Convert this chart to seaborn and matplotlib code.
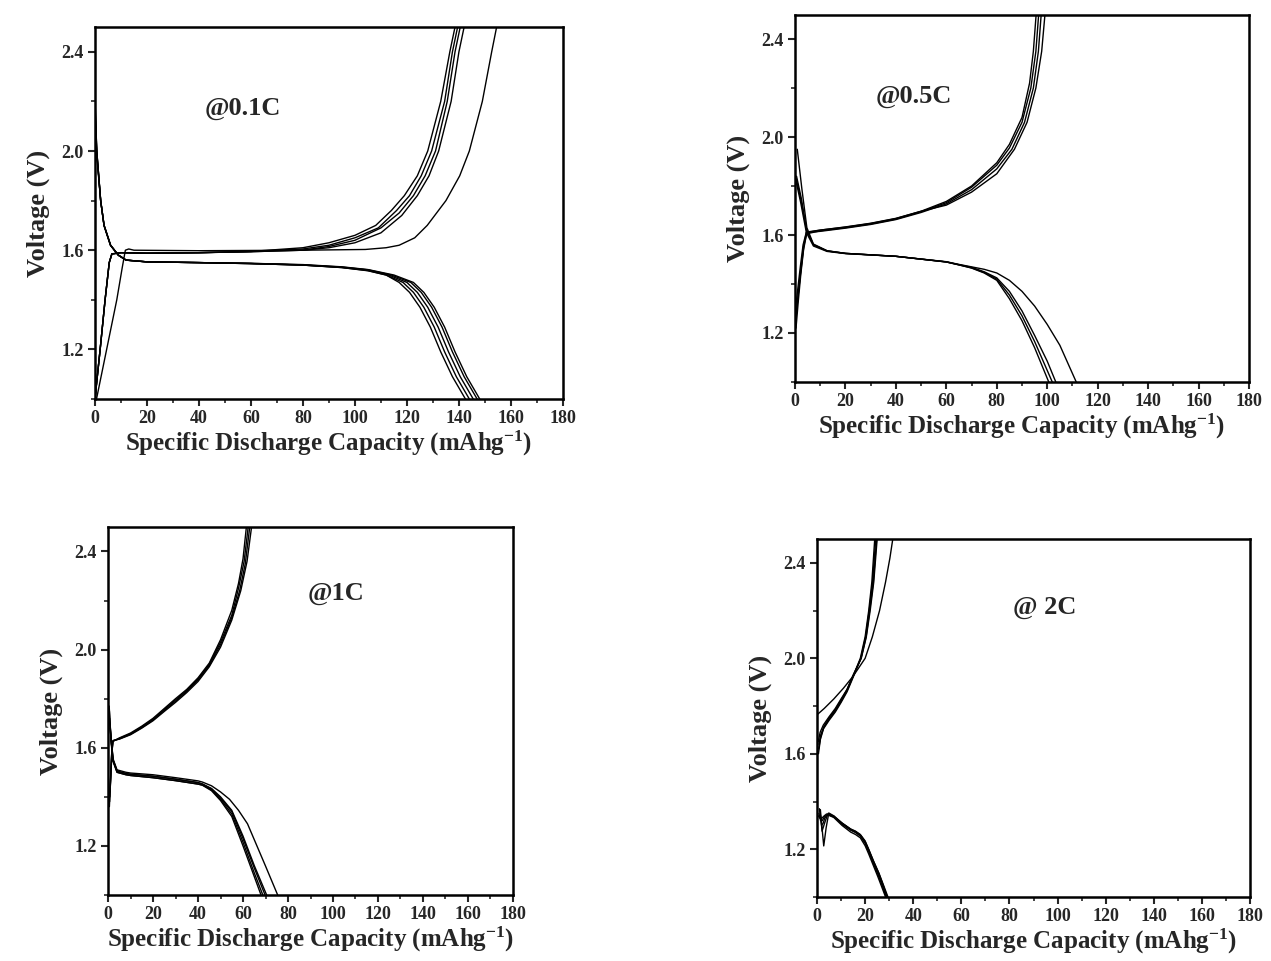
"""
Charge/discharge voltage profiles at four C-rates (0.1C, 0.5C, 1C, 2C).
Values read off the published figure by eye.
"""
import matplotlib
matplotlib.use("Agg")
from matplotlib import pyplot
from matplotlib.ticker import FixedLocator, MultipleLocator
import seaborn
import pandas as pd

# ---------------- @0.1C ----------------
c01_dis_cap = [
    [0, 0.7, 2.2, 3.5, 6, 9, 12, 20, 40, 60, 80, 95, 105, 112, 117, 121, 125, 129, 133, 137.5, 142.5],
    [0, 0.7, 2.2, 3.5, 6, 9, 12, 20, 40, 60, 80, 95, 105, 112, 118.5, 122.5, 126.5, 130.5, 134.5, 139, 144],
    [0, 0.7, 2.2, 3.5, 6, 9, 12, 20, 40, 60, 80, 95, 105, 113, 120, 124, 128, 132, 136, 140.5, 145.5],
    [0, 0.7, 2.2, 3.5, 6, 9, 12, 20, 40, 60, 80, 95, 105, 114, 121.5, 125.5, 129.5, 133.5, 137.5, 142, 147],
    [0, 0.7, 2.2, 3.5, 6, 9, 12, 20, 40, 60, 80, 95, 105, 115, 122.5, 126.5, 130.5, 134.5, 138.5, 143, 148],
]
c01_dis_v = [
    [2.22, 2.0, 1.8, 1.7, 1.62, 1.58, 1.56, 1.553, 1.55, 1.546, 1.54, 1.53, 1.517, 1.50, 1.47, 1.43, 1.37, 1.29, 1.19, 1.09, 1.0],
    [2.20, 2.0, 1.8, 1.7, 1.62, 1.58, 1.56, 1.553, 1.55, 1.546, 1.54, 1.53, 1.518, 1.50, 1.47, 1.43, 1.37, 1.29, 1.19, 1.09, 1.0],
    [2.18, 2.0, 1.8, 1.7, 1.62, 1.58, 1.56, 1.553, 1.55, 1.546, 1.54, 1.531, 1.52, 1.50, 1.47, 1.43, 1.37, 1.29, 1.19, 1.09, 1.0],
    [2.16, 1.99, 1.8, 1.7, 1.62, 1.58, 1.56, 1.553, 1.55, 1.547, 1.541, 1.532, 1.521, 1.50, 1.47, 1.43, 1.37, 1.29, 1.19, 1.09, 1.0],
    [2.14, 1.98, 1.8, 1.7, 1.62, 1.58, 1.56, 1.553, 1.55, 1.547, 1.542, 1.533, 1.522, 1.50, 1.47, 1.43, 1.37, 1.29, 1.19, 1.09, 1.0],
]
c01_chg_cap = [
    [0.6, 4.5, 8.4, 10.5, 11.7, 13, 15, 40, 80, 104, 112, 117, 123, 127.8, 135, 140.3, 144, 149, 152.6, 154.5],
    [0, 2, 3.9, 5.5, 6.5, 10, 20, 40, 60, 80, 90, 100, 108, 114, 119, 124, 128, 133, 136.5, 138.5],
    [0, 2, 3.9, 5.5, 6.5, 10, 20, 40, 60, 80, 90, 100, 109, 116, 121, 125.5, 129.5, 134.5, 137.5, 139.5],
    [0, 2, 3.9, 5.5, 6.5, 10, 20, 40, 60, 80, 90, 100, 110, 117, 122.5, 127, 131, 135.5, 138.5, 140.5],
    [0, 2, 3.9, 5.5, 6.5, 10, 20, 40, 60, 80, 90, 100, 110, 118, 124, 128.5, 132.2, 137, 140, 142],
]
c01_chg_v = [
    [1.0, 1.2, 1.4, 1.53, 1.6, 1.605, 1.6, 1.598, 1.6, 1.603, 1.61, 1.62, 1.65, 1.7, 1.8, 1.9, 2.0, 2.2, 2.4, 2.5],
    [1.0, 1.2, 1.4, 1.55, 1.585, 1.59, 1.588, 1.59, 1.595, 1.61, 1.63, 1.66, 1.70, 1.76, 1.82, 1.9, 2.0, 2.2, 2.4, 2.5],
    [1.0, 1.2, 1.4, 1.55, 1.585, 1.59, 1.588, 1.59, 1.595, 1.605, 1.62, 1.65, 1.69, 1.76, 1.82, 1.9, 2.0, 2.2, 2.4, 2.5],
    [1.0, 1.2, 1.4, 1.55, 1.585, 1.59, 1.588, 1.59, 1.594, 1.60, 1.615, 1.64, 1.69, 1.75, 1.82, 1.9, 2.0, 2.2, 2.4, 2.5],
    [1.0, 1.2, 1.4, 1.55, 1.585, 1.59, 1.588, 1.59, 1.594, 1.60, 1.61, 1.63, 1.67, 1.74, 1.82, 1.9, 2.0, 2.2, 2.4, 2.5],
]

# ---------------- @0.5C ----------------
c05_dis_cap = [
    [0.9, 2.7, 4.7, 7.3, 12.7, 20, 40, 60, 65, 70, 75, 80, 85, 90, 95, 100.6],
    [0.6, 2.5, 4.6, 7.3, 12.7, 20, 40, 60, 65, 70, 75, 80, 85, 90, 95, 102],
    [0.5, 2.4, 4.6, 7.3, 12.7, 20, 40, 60, 65, 70, 75, 80, 85, 90, 95, 100, 103.4],
    [0.4, 2.3, 4.5, 7.3, 12.7, 20, 40, 60, 65, 70, 75, 80, 85, 90, 95, 100, 105, 111.5],
]
c05_dis_v = [
    [1.95, 1.79, 1.63, 1.563, 1.536, 1.525, 1.513, 1.49, 1.478, 1.465, 1.445, 1.415, 1.34, 1.25, 1.14, 1.0],
    [1.84, 1.75, 1.62, 1.56, 1.535, 1.525, 1.513, 1.49, 1.478, 1.466, 1.447, 1.42, 1.355, 1.27, 1.165, 1.0],
    [1.83, 1.74, 1.62, 1.56, 1.535, 1.525, 1.513, 1.49, 1.479, 1.468, 1.45, 1.425, 1.37, 1.29, 1.19, 1.085, 1.0],
    [1.82, 1.73, 1.61, 1.555, 1.533, 1.524, 1.513, 1.491, 1.48, 1.47, 1.46, 1.445, 1.415, 1.37, 1.31, 1.235, 1.15, 1.0],
]
c05_chg_cap = [
    [0.3, 1.2, 2.2, 3.3, 4.5, 10, 20, 30, 40, 50, 60, 70, 80, 85, 90, 93, 94.5, 95.6],
    [0.4, 1.3, 2.3, 3.4, 4.6, 10, 20, 30, 40, 50, 60, 70, 80, 85, 90, 93.5, 95.5, 96.6],
    [0.5, 1.4, 2.4, 3.5, 4.7, 10, 20, 30, 40, 50, 60, 70, 80, 86, 91, 94.5, 96.5, 97.6],
    [0.2, 1.1, 2.1, 3.2, 4.5, 10, 20, 30, 40, 50, 60, 70, 80, 87, 92, 95.5, 97.8, 99.1],
]
c05_chg_v = [
    [1.25, 1.35, 1.45, 1.55, 1.61, 1.62, 1.632, 1.647, 1.667, 1.697, 1.737, 1.80, 1.895, 1.97, 2.08, 2.22, 2.35, 2.5],
    [1.22, 1.33, 1.44, 1.54, 1.605, 1.617, 1.63, 1.645, 1.665, 1.695, 1.732, 1.795, 1.885, 1.955, 2.06, 2.2, 2.35, 2.5],
    [1.28, 1.37, 1.46, 1.555, 1.61, 1.615, 1.628, 1.643, 1.663, 1.692, 1.727, 1.785, 1.87, 1.95, 2.06, 2.2, 2.35, 2.5],
    [1.30, 1.38, 1.47, 1.56, 1.612, 1.62, 1.633, 1.648, 1.668, 1.697, 1.722, 1.775, 1.85, 1.95, 2.06, 2.2, 2.35, 2.5],
]

# ---------------- @1C ----------------
c1_dis_cap = [
    [0.5, 1.2, 2, 4, 8, 10, 20, 30, 40, 42, 46, 50, 55, 60, 64, 68],
    [0.6, 1.3, 2.1, 4, 8, 10, 20, 30, 40, 42, 46, 50, 55, 60, 65, 68.8],
    [0.7, 1.4, 2.2, 4, 8, 10, 20, 30, 40, 42, 46, 50, 55, 60, 65, 69.8],
    [0.8, 1.5, 2.3, 4, 8, 10, 20, 30, 40, 42, 46, 50, 55, 60, 65, 70.5],
    [0.9, 1.6, 2.4, 4, 8, 10, 20, 30, 40, 42, 46, 50, 54, 58, 62, 66, 70, 75.4],
]
c1_dis_v = [
    [1.77, 1.65, 1.55, 1.50, 1.49, 1.487, 1.478, 1.466, 1.452, 1.447, 1.425, 1.385, 1.32, 1.20, 1.10, 1.0],
    [1.75, 1.64, 1.55, 1.50, 1.49, 1.487, 1.478, 1.466, 1.452, 1.448, 1.428, 1.39, 1.33, 1.215, 1.09, 1.0],
    [1.72, 1.63, 1.55, 1.505, 1.495, 1.492, 1.484, 1.472, 1.458, 1.452, 1.432, 1.395, 1.34, 1.23, 1.11, 1.0],
    [1.70, 1.62, 1.55, 1.505, 1.495, 1.492, 1.484, 1.472, 1.458, 1.452, 1.434, 1.40, 1.345, 1.24, 1.12, 1.0],
    [1.68, 1.61, 1.55, 1.51, 1.50, 1.497, 1.49, 1.478, 1.465, 1.46, 1.445, 1.42, 1.39, 1.345, 1.29, 1.204, 1.118, 1.0],
]
c1_chg_cap = [
    [0.6, 1.0, 1.5, 2.0, 5, 10, 15, 20, 25, 30, 35, 40, 45, 50, 55, 58, 60, 61.5],
    [0.7, 1.1, 1.6, 2.1, 5, 10, 15, 20, 25, 30, 35, 40, 45, 50, 55, 58, 60.5, 62.3],
    [0.8, 1.2, 1.7, 2.2, 5, 10, 15, 20, 25, 30, 35, 40, 45, 50, 55, 58.5, 61, 63],
    [0.9, 1.3, 1.8, 2.3, 5, 10, 15, 20, 25, 30, 35, 40, 45, 50, 55, 59, 61.8, 63.8],
]
c1_chg_v = [
    [1.36, 1.45, 1.56, 1.625, 1.64, 1.66, 1.688, 1.72, 1.76, 1.80, 1.838, 1.885, 1.945, 2.04, 2.16, 2.27, 2.37, 2.5],
    [1.38, 1.47, 1.57, 1.627, 1.638, 1.657, 1.685, 1.716, 1.756, 1.795, 1.834, 1.88, 1.94, 2.03, 2.14, 2.25, 2.36, 2.5],
    [1.40, 1.48, 1.58, 1.628, 1.636, 1.655, 1.682, 1.713, 1.752, 1.79, 1.83, 1.876, 1.935, 2.02, 2.13, 2.24, 2.35, 2.5],
    [1.42, 1.50, 1.59, 1.63, 1.635, 1.653, 1.68, 1.71, 1.748, 1.785, 1.825, 1.87, 1.93, 2.01, 2.12, 2.24, 2.36, 2.5],
]

# ---------------- @2C ----------------
c2_dis_cap = [
    [1.4, 2.0, 2.8, 3.8, 4.9, 7, 10.4, 14, 16, 18, 20, 21.5, 23.5, 25.7, 27.5, 29.2],
    [1.0, 1.6, 2.1, 3.5, 4.6, 7, 10.4, 14, 16, 18, 20, 21.5, 23.5, 25.5, 27.2, 28.8],
    [1.2, 1.9, 2.6, 3.2, 4.4, 7, 10.4, 14, 16, 18, 20, 21.5, 23.3, 25.3, 27.0, 28.5],
    [0.8, 1.5, 2.2, 3.0, 4.2, 7, 10.4, 14, 16, 18, 20, 21.5, 23.6, 25.8, 27.7, 29.5],
    [0.6, 1.2, 2.0, 3.0, 4.0, 7, 10.4, 14, 16, 18, 20, 21.5, 23.4, 25.6, 27.4, 29.0],
]
c2_dis_v = [
    [1.366, 1.30, 1.214, 1.29, 1.352, 1.34, 1.31, 1.285, 1.276, 1.262, 1.235, 1.20, 1.15, 1.10, 1.05, 1.0],
    [1.37, 1.33, 1.276, 1.32, 1.35, 1.338, 1.305, 1.28, 1.27, 1.255, 1.225, 1.19, 1.14, 1.09, 1.045, 1.0],
    [1.36, 1.30, 1.31, 1.33, 1.345, 1.333, 1.30, 1.272, 1.262, 1.248, 1.215, 1.18, 1.135, 1.085, 1.04, 1.0],
    [1.35, 1.32, 1.32, 1.335, 1.345, 1.336, 1.308, 1.282, 1.273, 1.26, 1.232, 1.198, 1.148, 1.098, 1.048, 1.0],
    [1.34, 1.33, 1.33, 1.34, 1.348, 1.338, 1.31, 1.284, 1.274, 1.259, 1.23, 1.195, 1.145, 1.095, 1.047, 1.0],
]
c2_chg_cap = [
    [0.3, 3, 7, 11, 15, 18, 20, 23, 26, 28.5, 30.3, 31.5],
    [0.7, 1.5, 2.8, 5, 7.6, 10, 12.5, 15, 18, 20, 21.5, 22.8, 24.0],
    [0.6, 1.4, 2.7, 5, 7.6, 10, 12.5, 15, 18.2, 20.2, 21.7, 23.1, 24.4],
    [0.8, 1.6, 2.9, 5, 7.6, 10, 12.5, 15, 18.3, 20.4, 21.9, 23.4, 24.8],
    [0.5, 1.3, 2.6, 5, 7.6, 10, 12.5, 15, 18.4, 20.5, 22.1, 23.6, 25.0],
]
c2_chg_v = [
    [1.766, 1.79, 1.83, 1.875, 1.925, 1.97, 2.0, 2.09, 2.2, 2.32, 2.42, 2.5],
    [1.62, 1.67, 1.71, 1.745, 1.78, 1.82, 1.865, 1.925, 2.0, 2.09, 2.2, 2.32, 2.5],
    [1.60, 1.66, 1.705, 1.74, 1.775, 1.815, 1.86, 1.92, 2.0, 2.09, 2.2, 2.32, 2.5],
    [1.64, 1.68, 1.715, 1.75, 1.785, 1.825, 1.87, 1.925, 2.0, 2.09, 2.2, 2.32, 2.5],
    [1.65, 1.69, 1.72, 1.755, 1.79, 1.83, 1.87, 1.93, 2.0, 2.09, 2.2, 2.32, 2.5],
]

panel_labels = ["@0.1C", "@0.5C", "@1C", "@ 2C"]
label_positions = [(57, 2.17), (47, 2.165), (101.5, 2.23), (94.5, 2.215)]
x_ticks = [0, 20, 40, 60, 80, 100, 120, 140, 160, 180]
y_ticks = [1.2, 1.6, 2.0, 2.4]


def to_long_df(cap_lists, volt_lists, prefix):
    frames = []
    for i, (cap, volt) in enumerate(zip(cap_lists, volt_lists)):
        frames.append(pd.DataFrame({"cap": cap, "volt": volt, "curve": f"{prefix}{i}"}))
    return pd.concat(frames, ignore_index=True)


def draw_panel(ax, df, label, label_xy):
    seaborn.lineplot(data=df, x="cap", y="volt", units="curve", estimator=None,
                     sort=False, color="black", linewidth=1.0, ax=ax)
    ax.set_xlim(0, 180)
    ax.set_ylim(1.0, 2.5)
    ax.xaxis.set_major_locator(FixedLocator(x_ticks))
    ax.xaxis.set_minor_locator(MultipleLocator(10))
    ax.yaxis.set_major_locator(FixedLocator(y_ticks))
    ax.yaxis.set_minor_locator(FixedLocator([1.0, 1.4, 1.8, 2.2]))
    ax.set_xticklabels([str(t) for t in x_ticks])
    ax.set_yticklabels([f"{t:.1f}" for t in y_ticks])
    ax.tick_params(which="major", direction="out", length=5, width=1.5, labelsize=13, pad=3)
    ax.tick_params(which="minor", direction="out", length=3, width=1.2)
    for lab in ax.get_xticklabels() + ax.get_yticklabels():
        lab.set_fontweight("bold")
    for spine in ax.spines.values():
        spine.set_visible(True)
        spine.set_linewidth(1.8)
        spine.set_color("black")
    ax.set_xlabel("Specific Discharge Capacity (mAhg$^{-1}$)", fontsize=18, fontweight="bold", labelpad=1)
    ax.set_ylabel("Voltage (V)", fontsize=19, fontweight="bold", labelpad=8)
    ax.text(label_xy[0], label_xy[1], label, ha="center", va="center",
            fontsize=19, fontweight="bold")


def main():
    seaborn.set_style("ticks")
    pyplot.rcParams["font.family"] = ["Liberation Serif", "DejaVu Serif"]
    pyplot.rcParams["font.weight"] = "bold"
    pyplot.rcParams["mathtext.fontset"] = "custom"
    pyplot.rcParams["mathtext.rm"] = "Liberation Serif:bold"
    pyplot.rcParams["mathtext.default"] = "rm"

    dfs = [
        pd.concat([to_long_df(c01_dis_cap, c01_dis_v, "d"), to_long_df(c01_chg_cap, c01_chg_v, "c")]),
        pd.concat([to_long_df(c05_dis_cap, c05_dis_v, "d"), to_long_df(c05_chg_cap, c05_chg_v, "c")]),
        pd.concat([to_long_df(c1_dis_cap, c1_dis_v, "d"), to_long_df(c1_chg_cap, c1_chg_v, "c")]),
        pd.concat([to_long_df(c2_dis_cap, c2_dis_v, "d"), to_long_df(c2_chg_cap, c2_chg_v, "c")]),
    ]

    fig = pyplot.figure(figsize=(12.71, 9.61), dpi=100)
    # axes boxes placed to follow the (uneven) layout of the source figure
    boxes = [
        [0.0747, 0.5848, 0.3682, 0.3871],
        [0.6255, 0.6025, 0.3572, 0.3824],
        [0.0850, 0.0687, 0.3186, 0.3830],
        [0.6428, 0.0666, 0.3407, 0.3725],
    ]
    for box, df, label, xy in zip(boxes, dfs, panel_labels, label_positions):
        ax = fig.add_axes(box)
        draw_panel(ax, df, label, xy)

    fig.savefig("out.png", dpi=100)


if __name__ == "__main__":
    main()
